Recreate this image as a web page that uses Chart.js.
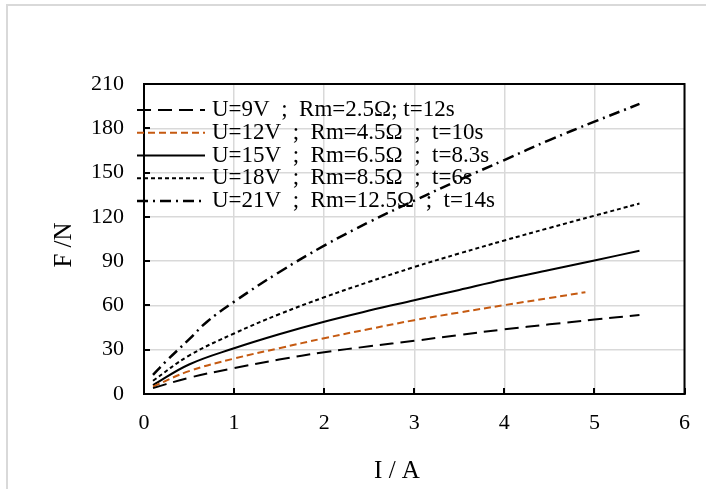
<!DOCTYPE html>
<html><head><meta charset="utf-8">
<script src="https://cdn.jsdelivr.net/npm/chart.js@4.4.1/dist/chart.umd.min.js"></script>
<style>html,body{margin:0;padding:0;background:#fff;overflow:hidden;}</style>
</head><body>
<canvas id="c" width="706" height="489"></canvas>
<script>
// ---- data ----
const seriesLabels = [
  "U=9V  ;  Rm=2.5Ω; t=12s",
  "U=12V  ;  Rm=4.5Ω  ;  t=10s",
  "U=15V  ;  Rm=6.5Ω  ;  t=8.3s",
  "U=18V  ;  Rm=8.5Ω  ;  t=6s",
  "U=21V  ;  Rm=12.5Ω  ;  t=14s"
];
const I_9V  = [0.1, 0.5, 1, 1.5, 2, 2.5, 3, 3.5, 4, 4.5, 5, 5.5];
const F_9V  = [4, 11, 17.5, 23.3, 28.3, 32.3, 36, 40, 43.8, 47.2, 50.4, 53.5];
const I_12V = [0.1, 0.5, 1, 1.5, 2, 2.5, 3, 3.5, 4, 4.5, 4.9];
const F_12V = [5, 15.5, 24, 31, 37.8, 44, 50, 55.2, 60.2, 65, 69];
const I_15V = [0.1, 0.5, 1, 1.5, 2, 2.5, 3, 3.5, 4, 4.5, 5, 5.5];
const F_15V = [6, 20, 31, 40.5, 49, 56.5, 63.5, 70.5, 77.5, 84, 90.5, 97];
const I_18V = [0.1, 0.5, 1, 1.5, 2, 2.5, 3, 3.5, 4, 4.5, 5, 5.5];
const F_18V = [9, 26, 41, 54, 65.5, 76, 86, 95.2, 104, 112.5, 120.8, 129];
const I_21V = [0.1, 0.25, 0.5, 0.7, 1, 1.5, 2, 2.5, 3, 3.5, 4, 4.5, 5, 5.5];
const F_21V = [13, 22.5, 37, 49, 62.5, 82.5, 100.5, 116.5, 131, 145, 158.5, 172, 184.5, 196.5];
const xTicks = [0, 1, 2, 3, 4, 5, 6];
const yTicks = [0, 30, 60, 90, 120, 150, 180, 210];
const xTitle = "I / A";
const yTitle = "F /N";

const pts = (xs, ys) => xs.map((v, i) => ({x: v, y: ys[i]}));
const styles = [
  {color: '#000000', dash: [14, 7], width: 2},
  {color: '#c55a11', dash: [7, 4], width: 2},
  {color: '#000000', dash: [], width: 2},
  {color: '#000000', dash: [4, 3], width: 2},
  {color: '#000000', dash: [11, 5, 2, 5], width: 2.5}
];
const seriesData = [pts(I_9V, F_9V), pts(I_12V, F_12V), pts(I_15V, F_15V), pts(I_18V, F_18V), pts(I_21V, F_21V)];

const SERIF = '"Liberation Serif", "Times New Roman", serif';

const decor = {
  id: 'decor',
  beforeDraw(chart) {
    const ctx = chart.ctx;
    ctx.save();
    ctx.fillStyle = '#fff';
    ctx.fillRect(0, 0, chart.width, chart.height);
    ctx.strokeStyle = '#d9d9d9';
    ctx.lineWidth = 2;
    ctx.beginPath();
    ctx.moveTo(7, chart.height + 5);
    ctx.lineTo(7, 5);
    ctx.lineTo(chart.width + 5, 5);
    ctx.stroke();
    ctx.restore();
  },
  afterDraw(chart) {
    const {ctx, chartArea: a, scales: {x, y}} = chart;
    ctx.save();
    ctx.strokeStyle = '#000';
    ctx.lineWidth = 2;
    ctx.strokeRect(a.left, a.top, a.right - a.left, a.bottom - a.top);
    ctx.beginPath();
    xTicks.forEach(v => { const px = Math.round(x.getPixelForValue(v)); ctx.moveTo(px, a.bottom); ctx.lineTo(px, a.bottom - 6); });
    yTicks.forEach(v => { const py = Math.round(y.getPixelForValue(v)); ctx.moveTo(a.left, py); ctx.lineTo(a.left + 6, py); });
    ctx.stroke();

    // legend
    ctx.font = '23px ' + SERIF;
    ctx.textBaseline = 'middle';
    ctx.textAlign = 'left';
    chart.data.datasets.forEach((ds, i) => {
      const yy = 110 + i * 22.75;
      ctx.strokeStyle = ds.borderColor;
      ctx.lineWidth = ds.borderWidth;
      ctx.setLineDash(ds.borderDash);
      ctx.beginPath();
      ctx.moveTo(137, yy);
      ctx.lineTo(205, yy);
      ctx.stroke();
      ctx.setLineDash([]);
      ctx.fillStyle = '#000';
      ctx.fillText(ds.label, 212, yy);
    });

    // axis titles
    ctx.font = '25px ' + SERIF;
    ctx.textAlign = 'center';
    ctx.fillStyle = '#000';
    ctx.fillText(xTitle, 397, 471);
    ctx.translate(64, 245);
    ctx.rotate(-Math.PI / 2);
    ctx.fillText(yTitle, 0, 0);
    ctx.restore();
  }
};

new Chart(document.getElementById('c'), {
  type: 'line',
  data: {
    datasets: seriesData.map((d, i) => ({
      label: seriesLabels[i],
      data: d,
      borderColor: styles[i].color,
      backgroundColor: styles[i].color,
      borderDash: styles[i].dash,
      borderWidth: styles[i].width,
      pointRadius: 0,
      fill: false,
      tension: 0.4
    }))
  },
  options: {
    responsive: false,
    animation: false,
    layout: {padding: {top: 84, right: 16, left: 0, bottom: 0}},
    plugins: {legend: {display: false}, tooltip: {enabled: false}},
    scales: {
      x: {
        type: 'linear', min: 0, max: 6,
        afterBuildTicks: s => { s.ticks = xTicks.map(v => ({value: v})); },
        afterFit: s => { s.height = 95; },
        grid: {color: '#d9d9d9', lineWidth: 1.5, drawTicks: false},
        border: {color: '#000', width: 2},
        ticks: {color: '#000', font: {family: SERIF, size: 22}, padding: 16, maxRotation: 0}
      },
      y: {
        type: 'linear', min: 0, max: 210,
        afterBuildTicks: s => { s.ticks = yTicks.map(v => ({value: v})); },
        afterFit: s => { s.width = 144; },
        grid: {color: '#d9d9d9', lineWidth: 1.5, drawTicks: false},
        border: {color: '#000', width: 2},
        ticks: {color: '#000', font: {family: SERIF, size: 22}, padding: 20}
      }
    }
  },
  plugins: [decor]
});
</script>
</body></html>
